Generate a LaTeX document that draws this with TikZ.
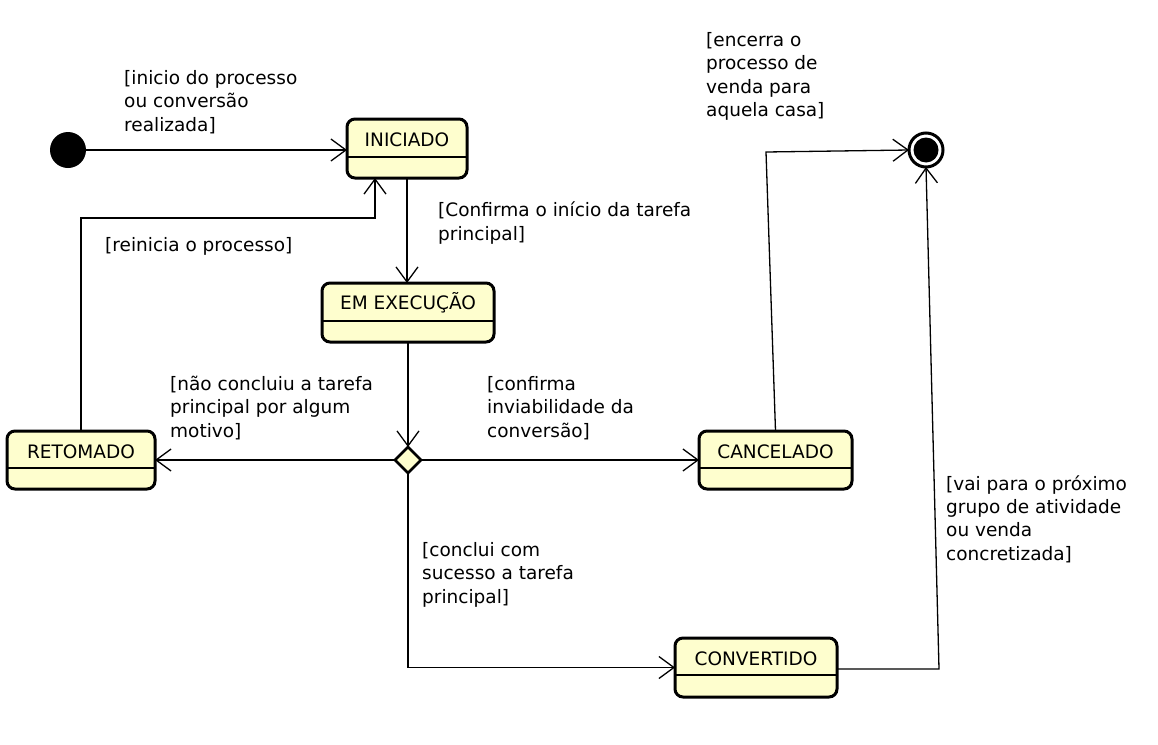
\documentclass[tikz,border=0pt]{standalone}
\usepackage{fontspec}
\setmainfont{DejaVu Sans}
\usetikzlibrary{arrows.meta,shapes.geometric}
\definecolor{statefill}{HTML}{FEFECE}
\begin{document}
\begin{tikzpicture}[x=1pt,y=-1pt,
 state/.style={draw=black, line width=3pt, rounded corners=8pt, fill=statefill, inner sep=0pt, outer sep=0pt},
 conn/.style={line width=1.3pt, -{Straight Barb[length=15pt,width=22pt,line width=1.3pt]}},
 divider/.style={line width=1.6pt},
 lbl/.style={anchor=north west, inner sep=0pt, align=left, font=\fontsize{18.5}{23.4}\selectfont},
 ttl/.style={inner sep=0pt, font=\fontsize{18.5}{22}\selectfont}
]
\useasboundingbox (0,0) rectangle (1158,744);
% initial and final
\node[circle, fill=black, minimum size=36pt, inner sep=0pt, outer sep=0pt] (init) at (68,150) {};
\node[circle, draw=black, line width=3pt, fill=white, minimum size=34pt, inner sep=0pt, outer sep=0pt] (fin) at (926,150) {};
\node[circle, fill=black, minimum size=25pt, inner sep=0pt] (fininner) at (fin.center) {};
% states
\node[state, minimum width=120pt, minimum height=59pt] (ini) at (407,148.5) {};
\draw[divider] ([yshift=-38pt]ini.north west) -- ([yshift=-38pt]ini.north east);
\node[ttl] (iniT) at ([yshift=-21pt]ini.north) {INICIADO};

\node[state, minimum width=172pt, minimum height=59pt] (exec) at (408,312.5) {};
\draw[divider] ([yshift=-38pt]exec.north west) -- ([yshift=-38pt]exec.north east);
\node[ttl] (execT) at ([yshift=-20pt]exec.north) {EM EXECUÇÃO};

\node[state, minimum width=148pt, minimum height=58pt] (ret) at (81,460) {};
\draw[divider] ([yshift=-37pt]ret.north west) -- ([yshift=-37pt]ret.north east);
\node[ttl] (retT) at ([yshift=-21pt]ret.north) {RETOMADO};

\node[state, minimum width=153pt, minimum height=58pt] (canc) at (775.5,460) {};
\draw[divider] ([yshift=-37pt]canc.north west) -- ([yshift=-37pt]canc.north east);
\node[ttl] (cancT) at ([yshift=-21pt]canc.north) {CANCELADO};

\node[state, minimum width=162pt, minimum height=59pt] (conv) at (756,667.5) {};
\draw[divider] ([yshift=-37pt]conv.north west) -- ([yshift=-37pt]conv.north east);
\node[ttl] (convT) at ([yshift=-21pt]conv.north) {CONVERTIDO};

\node[diamond, draw=black, fill=statefill, line width=2.8pt, minimum width=26pt, minimum height=26pt, inner sep=0pt, outer sep=0pt] (dia) at (408,460) {};

% connectors
\draw[conn] (init) -- (ini.west |- init);
\draw[conn] (ini.south) -- (ini.south |- exec.north);
\draw[conn] (exec.south) -- (dia.north);
\draw[conn] (dia.west) -- (ret.east);
\draw[conn] (dia.east) -- (canc.west);
\draw[conn] (dia.south) |- (conv.west);
\coordinate (k1) at (375,218);
\draw[conn] (ret.north) |- (k1) -- (k1 |- ini.south);
\coordinate (k2) at (766,152);
\draw[conn] (canc.north) -- (k2) -- (fin.west);
\coordinate (k3) at (939,669);
\draw[conn] (conv.east |- k3) -- (k3) -- (fin.south);

% labels
\node[lbl] (l1) at (124,70) {[inicio do processo\\ou conversão\\realizada]};
\node[lbl] (l2) at (438,202) {[Confirma o início da tarefa\\principal]};
\node[lbl] (l3) at (105,237) {[reinicia o processo]};
\node[lbl] (l4) at (170,376) {[não concluiu a tarefa\\principal por algum\\motivo]};
\node[lbl] (l5) at (487,376) {[confirma\\inviabilidade da\\conversão]};
\node[lbl] (l6) at (422,542) {[conclui com\\sucesso a tarefa\\principal]};
\node[lbl] (l7) at (946,475) {[vai para o próximo\\grupo de atividade\\ou venda\\concretizada]};
\node[lbl] (l8) at (706,32) {[encerra o\\processo de\\venda para\\aquela casa]};
\end{tikzpicture}
\end{document}
